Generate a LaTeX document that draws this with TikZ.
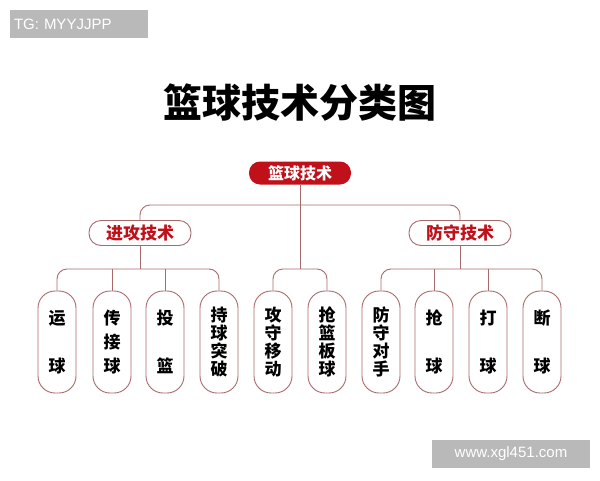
\documentclass[tikz,border=0pt]{standalone}
\usepackage{fontspec}
\setmainfont{Liberation Sans}
\newfontfamily\cjk{Noto Sans CJK SC}
\begin{document}
\begin{tikzpicture}[x=1pt,y=-1pt,
  ln/.style={draw=lnc,line width=0.9pt,rounded corners=10pt},
  leaf/.style={draw=lnc,line width=0.9pt,rounded corners=17pt,minimum width=38pt,minimum height=102pt,font=\cjk\bfseries\fontsize{17}{24}\selectfont,align=center,inner sep=0pt},
  mid/.style={draw=lnc,line width=0.9pt,rounded corners=12pt,minimum width=102pt,minimum height=25pt,font=\cjk\bfseries\fontsize{17}{18}\selectfont,text=redc,fill=white},
  wm/.style={fill=gray!55,text=white,font=\fontsize{15}{16}\selectfont,inner sep=0pt}]
\definecolor{lnc}{HTML}{A86A6A}
\definecolor{redc}{HTML}{C0101A}
\useasboundingbox (0,0) rectangle (600,480);
\node[wm,minimum width=138pt,minimum height=28pt,text width=130pt,align=left] (tg) at (79,24) {TG: MYYJJPP};
\node[wm,minimum width=158pt,minimum height=28pt] (web) at (511,454) {www.xgl451.com};
\node[font=\cjk\bfseries\fontsize{39}{40}\selectfont] (title) at (300,103) {篮球技术分类图};
\node[fill=redc,rounded corners=11pt,minimum width=102pt,minimum height=23pt,text=white,font=\cjk\bfseries\fontsize{16}{17}\selectfont] (root) at (300,173) {篮球技术};
\node[mid] (att) at (140,233) {进攻技术};
\node[mid] (def) at (460,233) {防守技术};
\foreach \n/\x/\t in {a/57/{运\\[24pt]球},b/112/{传\\接\\球},c/165/{投\\[24pt]篮},d/219/{持\\[-6pt]球\\[-6pt]突\\[-6pt]破},
  e/273/{攻\\[-6pt]守\\[-6pt]移\\[-6pt]动},f/327/{抢\\[-6pt]篮\\[-6pt]板\\[-6pt]球},g/381/{防\\[-6pt]守\\[-6pt]对\\[-6pt]手},
  h/434/{抢\\[24pt]球},i/488/{打\\[24pt]球},j/542/{断\\[24pt]球}}
  \node[leaf] (\n) at (\x,342) {\t};
\coordinate (rj) at (300,269);
\draw[line width=0.9pt,draw=lnc] (root.south) -- (rj);
\draw[ln] (att.north) |- (300,205) -| (def.north);
\draw[ln] (a.north) |- (att.south |- rj) -| (d.north);
\draw[ln] (att.south) -- (att.south |- rj);
\draw[ln] (b.north) -- (b.north |- rj);
\draw[ln] (c.north) -- (c.north |- rj);
\draw[ln] (e.north) |- (rj) -| (f.north);
\draw[ln] (g.north) |- (def.south |- rj) -| (j.north);
\draw[ln] (def.south) -- (def.south |- rj);
\draw[ln] (h.north) -- (h.north |- rj);
\draw[ln] (i.north) -- (i.north |- rj);
\end{tikzpicture}
\end{document}
